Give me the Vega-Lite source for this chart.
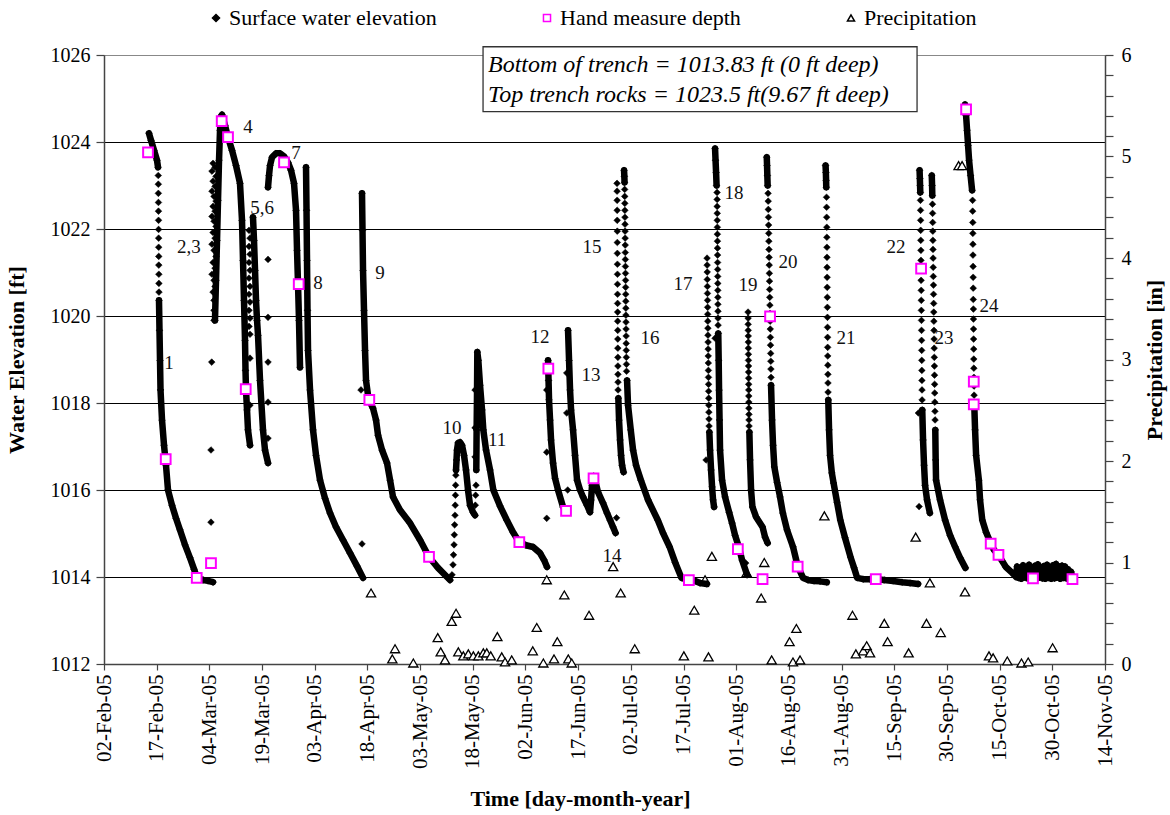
{
"$schema":"https://vega.github.io/schema/vega-lite/v6.json",
"width":1001,"height":609,
"autosize":{"type":"none"},
"padding":{"left":104,"top":55,"right":65,"bottom":151},
"background":"white",
"config":{
 "view":{"stroke":"#888888","strokeWidth":1},
 "axis":{"labelFont":"Liberation Serif","titleFont":"Liberation Serif","labelColor":"#000","titleColor":"#000","domainColor":"#444","domainWidth":1.5,"tickColor":"#444","tickWidth":1.2,"labelFontSize":20,"titleFontSize":22,"titleFontWeight":"bold","labelOverlap":false,"labelFlush":false},
 "legend":{"labelFont":"Liberation Serif","labelFontSize":22,"labelColor":"#000","labelLimit":0,"symbolSize":50,"symbolStrokeWidth":1.5,"symbolOpacity":1,"columnPadding":99,"labelOffset":2,"padding":0,"direction":"horizontal"}
},
"datasets":{
"precip":[
{"d":109.03,"p":0.70},{"d":115.86,"p":0.15},{"d":115.09,"p":0.05},{"d":121.07,"p":0.01},{"d":128.02,"p":0.26},{"d":128.87,"p":0.12},{"d":130.09,"p":0.04},{"d":132.0,"p":0.42},{"d":133.23,"p":0.50},{"d":133.88,"p":0.12},{"d":135.31,"p":0.08},{"d":136.73,"p":0.10},{"d":138.16,"p":0.08},{"d":139.58,"p":0.08},{"d":141.0,"p":0.11},{"d":141.97,"p":0.11},{"d":143.11,"p":0.08},{"d":144.99,"p":0.27},{"d":146.24,"p":0.07},{"d":147.18,"p":0.02},{"d":149.09,"p":0.04},{"d":155.07,"p":0.13},{"d":156.21,"p":0.36},{"d":158.09,"p":0.01},{"d":159.05,"p":0.83},{"d":161.13,"p":0.05},{"d":162.07,"p":0.22},{"d":164.06,"p":0.68},{"d":165.2,"p":0.05},{"d":166.17,"p":0.01},{"d":171.1,"p":0.48},
{"d":177.96,"p":0.96},{"d":180.1,"p":0.70},{"d":184.11,"p":0.15},{"d":198.1,"p":0.08},{"d":201.06,"p":0.53},{"d":204.13,"p":0.83},{"d":205.1,"p":0.07},{"d":206.07,"p":1.06},{"d":215.98,"p":0.90},{"d":220.11,"p":0.65},{"d":220.99,"p":1.00},{"d":223.1,"p":0.04},{"d":228.19,"p":0.22},{"d":229.16,"p":0.02},{"d":230.13,"p":0.35},{"d":231.18,"p":0.04},{"d":238.1,"p":1.46},{"d":246.1,"p":0.48},{"d":247.07,"p":0.10},{"d":249.18,"p":0.13},{"d":250.15,"p":0.18},{"d":251.11,"p":0.11},{"d":255.16,"p":0.40},{"d":256.1,"p":0.22},{"d":262.08,"p":0.11},{"d":264.1,"p":1.25},{"d":267.17,"p":0.40},{"d":268.14,"p":0.80},{"d":271.22,"p":0.31},{"d":276.31,"p":4.91},{"d":277.31,"p":4.91},{"d":278.14,"p":0.71},{"d":284.97,"p":0.08},{"d":286.14,"p":0.06},{"d":290.18,"p":0.03},{"d":294.22,"p":0.01},{"d":296.13,"p":0.02},{"d":303.08,"p":0.16}
],
"hand":[
{"d":45.53,"y":1023.76},{"d":50.57,"y":1016.71},{"d":59.4,"y":1013.98},{"d":63.46,"y":1014.32},{"d":66.51,"y":1024.48},{"d":68.31,"y":1024.11},{"d":73.35,"y":1018.32},{"d":84.25,"y":1023.53},{"d":88.44,"y":1020.73},{"d":108.54,"y":1018.07},{"d":125.54,"y":1014.46},{"d":151.25,"y":1014.8},{"d":159.51,"y":1018.79},{"d":164.55,"y":1015.52},{"d":172.38,"y":1016.27},{"d":199.52,"y":1013.93},{"d":213.47,"y":1014.64},{"d":220.5,"y":1013.95},{"d":222.64,"y":1019.99},{"d":230.5,"y":1014.24},{"d":252.74,"y":1013.95},{"d":265.64,"y":1021.09},{"d":278.45,"y":1024.75},{"d":280.64,"y":1018.49},{"d":280.64,"y":1017.97},{"d":285.45,"y":1014.77},{"d":287.67,"y":1014.51},{"d":297.5,"y":1013.97},{"d":308.74,"y":1013.95}
],
"labels":[
{"d":51.51,"y":1018.91,"t":"1"},{"d":57.2,"y":1021.58,"t":"2,3"},{"d":74,"y":1024.34,"t":"4"},{"d":77.99,"y":1022.48,"t":"5,6"},{"d":87.67,"y":1023.74,"t":"7"},{"d":93.93,"y":1020.75,"t":"8"},{"d":111.59,"y":1020.98,"t":"9"},{"d":132.09,"y":1017.42,"t":"10"},{"d":144.9,"y":1017.15,"t":"11"},{"d":157.15,"y":1019.51,"t":"12"},{"d":171.67,"y":1018.64,"t":"13"},{"d":177.65,"y":1014.48,"t":"14"},{"d":171.95,"y":1021.58,"t":"15"},{"d":188.47,"y":1019.49,"t":"16"},{"d":197.86,"y":1020.73,"t":"17"},{"d":212.39,"y":1022.82,"t":"18"},{"d":216.37,"y":1020.71,"t":"19"},{"d":227.76,"y":1021.23,"t":"20"},{"d":244.28,"y":1019.49,"t":"21"},{"d":258.52,"y":1021.58,"t":"22"},{"d":272.18,"y":1019.49,"t":"23"},{"d":285,"y":1020.22,"t":"24"}
],
"sweLine":[
{"d":45.81,"y":1024.2,"g":"1a"},{"d":46.38,"y":1024.04,"g":"1a"},{"d":47.24,"y":1023.81,"g":"1a"},{"d":48.09,"y":1023.58,"g":"1a"},{"d":48.38,"y":1023.42,"g":"1a"},
{"d":48.66,"y":1020.36,"g":"1b"},{"d":48.8,"y":1019.67,"g":"1b"},{"d":48.95,"y":1018.98,"g":"1b"},{"d":49.09,"y":1018.3,"g":"1b"},{"d":49.52,"y":1017.61,"g":"1b"},{"d":50.09,"y":1017.03,"g":"1b"},{"d":50.65,"y":1016.57,"g":"1b"},{"d":51.22,"y":1016.0,"g":"1b"},{"d":52.36,"y":1015.65,"g":"1b"},{"d":53.5,"y":1015.35,"g":"1b"},{"d":54.64,"y":1015.08,"g":"1b"},{"d":56.06,"y":1014.74,"g":"1b"},{"d":57.49,"y":1014.44,"g":"1b"},{"d":58.63,"y":1014.18,"g":"1b"},{"d":59.48,"y":1013.98,"g":"1b"},{"d":61.19,"y":1013.93,"g":"1b"},{"d":62.61,"y":1013.91,"g":"1b"},{"d":64.04,"y":1013.88,"g":"1b"},
{"d":64.6,"y":1019.9,"g":"4"},{"d":64.89,"y":1020.82,"g":"4"},{"d":65.18,"y":1021.74,"g":"4"},{"d":65.46,"y":1022.66,"g":"4"},{"d":65.75,"y":1023.58,"g":"4"},{"d":66.03,"y":1024.27,"g":"4"},{"d":66.31,"y":1024.59,"g":"4"},{"d":66.6,"y":1024.63,"g":"4"},{"d":67.45,"y":1024.38,"g":"4"},{"d":68.31,"y":1024.11,"g":"4"},{"d":69.45,"y":1023.81,"g":"4"},{"d":70.59,"y":1023.46,"g":"4"},{"d":71.72,"y":1023.05,"g":"4"},{"d":72.29,"y":1022.2,"g":"4"},{"d":72.58,"y":1021.28,"g":"4"},{"d":72.86,"y":1020.36,"g":"4"},{"d":73.15,"y":1019.44,"g":"4"},{"d":73.29,"y":1018.75,"g":"4"},{"d":73.43,"y":1018.3,"g":"4"},{"d":73.72,"y":1017.84,"g":"4"},{"d":74.0,"y":1017.38,"g":"4"},{"d":74.57,"y":1017.03,"g":"4"},
{"d":75.42,"y":1022.27,"g":"6"},{"d":75.71,"y":1021.74,"g":"6"},{"d":76.0,"y":1021.05,"g":"6"},{"d":76.28,"y":1020.36,"g":"6"},{"d":76.57,"y":1019.9,"g":"6"},{"d":76.85,"y":1019.56,"g":"6"},{"d":77.42,"y":1018.52,"g":"6"},{"d":78.27,"y":1017.38,"g":"6"},{"d":78.84,"y":1016.92,"g":"6"},{"d":79.7,"y":1016.62,"g":"6"},
{"d":79.7,"y":1022.96,"g":"7"},{"d":79.98,"y":1023.23,"g":"7"},{"d":80.27,"y":1023.46,"g":"7"},{"d":80.84,"y":1023.65,"g":"7"},{"d":81.98,"y":1023.74,"g":"7"},{"d":83.11,"y":1023.74,"g":"7"},{"d":84.25,"y":1023.67,"g":"7"},{"d":85.39,"y":1023.53,"g":"7"},{"d":86.25,"y":1023.35,"g":"7"},{"d":87.1,"y":1023.05,"g":"7"},{"d":87.67,"y":1022.43,"g":"7"},{"d":87.96,"y":1021.51,"g":"7"},{"d":88.24,"y":1020.73,"g":"7"},{"d":88.52,"y":1019.9,"g":"7"},{"d":88.81,"y":1018.82,"g":"7"},
{"d":90.52,"y":1023.42,"g":"8"},{"d":90.66,"y":1022.43,"g":"8"},{"d":90.8,"y":1021.28,"g":"8"},{"d":90.94,"y":1020.13,"g":"8"},{"d":91.09,"y":1019.21,"g":"8"},{"d":91.66,"y":1018.3,"g":"8"},{"d":92.51,"y":1017.38,"g":"8"},{"d":93.36,"y":1016.8,"g":"8"},{"d":94.5,"y":1016.23,"g":"8"},{"d":95.93,"y":1015.81,"g":"8"},{"d":97.35,"y":1015.47,"g":"8"},{"d":99.06,"y":1015.15,"g":"8"},{"d":101.05,"y":1014.85,"g":"8"},{"d":103.05,"y":1014.55,"g":"8"},{"d":105.04,"y":1014.25,"g":"8"},{"d":106.75,"y":1013.98,"g":"8"},
{"d":106.46,"y":1022.82,"g":"9"},{"d":106.6,"y":1021.97,"g":"9"},{"d":106.75,"y":1021.05,"g":"9"},{"d":107.03,"y":1020.13,"g":"9"},{"d":107.32,"y":1019.21,"g":"9"},{"d":107.6,"y":1018.52,"g":"9"},{"d":108.17,"y":1018.18,"g":"9"},{"d":108.74,"y":1018.02,"g":"9"},{"d":109.59,"y":1017.88,"g":"9"},{"d":110.45,"y":1017.61,"g":"9"},{"d":111.02,"y":1017.26,"g":"9"},{"d":112.16,"y":1016.92,"g":"9"},{"d":113.58,"y":1016.62,"g":"9"},{"d":114.44,"y":1016.23,"g":"9"},{"d":115.29,"y":1015.84,"g":"9"},{"d":117.28,"y":1015.54,"g":"9"},{"d":120.13,"y":1015.24,"g":"9"},{"d":122.98,"y":1014.85,"g":"9"},{"d":125.54,"y":1014.46,"g":"9"},{"d":128.1,"y":1014.21,"g":"9"},{"d":130.67,"y":1014.0,"g":"9"},{"d":131.52,"y":1013.93,"g":"9"},
{"d":133.23,"y":1016.46,"g":"10"},{"d":133.37,"y":1016.69,"g":"10"},{"d":133.51,"y":1016.92,"g":"10"},{"d":133.8,"y":1017.08,"g":"10"},{"d":134.37,"y":1017.1,"g":"10"},{"d":134.93,"y":1017.03,"g":"10"},{"d":135.5,"y":1016.8,"g":"10"},{"d":136.07,"y":1016.46,"g":"10"},{"d":136.64,"y":1016.0,"g":"10"},{"d":137.22,"y":1015.65,"g":"10"},{"d":138.07,"y":1015.49,"g":"10"},{"d":138.64,"y":1015.42,"g":"10"},
{"d":139.0,"y":1016.46,"g":"11"},{"d":139.09,"y":1017.38,"g":"11"},{"d":139.21,"y":1018.3,"g":"11"},{"d":139.29,"y":1019.17,"g":"11"},{"d":139.58,"y":1018.98,"g":"11"},{"d":140.06,"y":1018.41,"g":"11"},{"d":140.63,"y":1017.84,"g":"11"},{"d":141.0,"y":1017.38,"g":"11"},{"d":141.77,"y":1016.92,"g":"11"},{"d":142.91,"y":1016.46,"g":"11"},{"d":143.85,"y":1016.0,"g":"11"},{"d":145.76,"y":1015.63,"g":"11"},{"d":147.67,"y":1015.31,"g":"11"},{"d":149.46,"y":1015.03,"g":"11"},{"d":151.25,"y":1014.8,"g":"11"},{"d":153.16,"y":1014.73,"g":"11"},{"d":155.16,"y":1014.69,"g":"11"},{"d":157.15,"y":1014.55,"g":"11"},{"d":158.29,"y":1014.39,"g":"11"},{"d":159.14,"y":1014.23,"g":"11"},
{"d":159.43,"y":1018.98,"g":"12"},{"d":159.57,"y":1018.52,"g":"12"},{"d":159.71,"y":1018.07,"g":"12"},{"d":160.0,"y":1017.61,"g":"12"},{"d":160.28,"y":1017.15,"g":"12"},{"d":160.85,"y":1016.62,"g":"12"},{"d":161.42,"y":1016.27,"g":"12"},{"d":162.27,"y":1016.0,"g":"12"},{"d":163.7,"y":1015.61,"g":"12"},{"d":164.55,"y":1015.49,"g":"12"},
{"d":165.12,"y":1019.67,"g":"13"},{"d":165.41,"y":1018.98,"g":"13"},{"d":165.69,"y":1018.3,"g":"13"},{"d":165.98,"y":1017.84,"g":"13"},{"d":166.55,"y":1017.38,"g":"13"},{"d":167.11,"y":1016.8,"g":"13"},{"d":167.68,"y":1016.23,"g":"13"},{"d":168.54,"y":1016.0,"g":"13"},{"d":169.39,"y":1015.84,"g":"13"},{"d":170.53,"y":1015.65,"g":"13"},{"d":171.38,"y":1015.49,"g":"13"},{"d":171.67,"y":1015.77,"g":"13"},{"d":171.95,"y":1016.11,"g":"13"},{"d":172.38,"y":1016.32,"g":"13"},{"d":172.81,"y":1016.23,"g":"13"},{"d":173.66,"y":1015.95,"g":"13"},{"d":175.08,"y":1015.7,"g":"13"},{"d":176.22,"y":1015.47,"g":"13"},{"d":177.08,"y":1015.31,"g":"13"},{"d":177.93,"y":1015.15,"g":"13"},{"d":178.65,"y":1015.01,"g":"13"},
{"d":179.44,"y":1018.11,"g":"15"},{"d":179.64,"y":1017.61,"g":"15"},{"d":179.93,"y":1017.15,"g":"15"},{"d":180.21,"y":1016.8,"g":"15"},{"d":180.5,"y":1016.57,"g":"15"},{"d":180.92,"y":1016.41,"g":"15"},
{"d":181.07,"y":1023.35,"g":"16a"},{"d":181.15,"y":1023.21,"g":"16a"},{"d":181.21,"y":1023.07,"g":"16a"},
{"d":181.92,"y":1018.52,"g":"16b"},{"d":182.2,"y":1017.95,"g":"16b"},{"d":182.97,"y":1017.38,"g":"16b"},{"d":183.63,"y":1016.92,"g":"16b"},{"d":184.48,"y":1016.57,"g":"16b"},{"d":185.85,"y":1016.23,"g":"16b"},{"d":187.9,"y":1015.77,"g":"16b"},{"d":190.66,"y":1015.31,"g":"16b"},{"d":192.17,"y":1015.01,"g":"16b"},{"d":194.05,"y":1014.69,"g":"16b"},{"d":195.59,"y":1014.34,"g":"16b"},{"d":197.41,"y":1013.98,"g":"16b"},{"d":199.52,"y":1013.93,"g":"16b"},{"d":201.28,"y":1013.91,"g":"16b"},{"d":202.71,"y":1013.86,"g":"16b"},{"d":204.62,"y":1013.84,"g":"16b"},
{"d":205.36,"y":1017.33,"g":"17"},{"d":205.55,"y":1016.92,"g":"17"},{"d":205.84,"y":1016.46,"g":"17"},{"d":206.13,"y":1016.07,"g":"17"},{"d":206.41,"y":1015.77,"g":"17"},{"d":206.7,"y":1015.61,"g":"17"},
{"d":206.98,"y":1023.85,"g":"18a"},{"d":207.12,"y":1023.58,"g":"18a"},{"d":207.27,"y":1023.3,"g":"18a"},{"d":207.41,"y":1023.0,"g":"18a"},
{"d":207.89,"y":1019.6,"g":"18b"},{"d":208.01,"y":1018.98,"g":"18b"},{"d":208.12,"y":1018.3,"g":"18b"},{"d":208.26,"y":1017.61,"g":"18b"},{"d":208.4,"y":1016.92,"g":"18b"},{"d":208.97,"y":1016.23,"g":"18b"},{"d":209.83,"y":1015.84,"g":"18b"},{"d":210.97,"y":1015.49,"g":"18b"},{"d":211.82,"y":1015.24,"g":"18b"},{"d":212.67,"y":1014.96,"g":"18b"},{"d":213.75,"y":1014.69,"g":"18b"},{"d":214.67,"y":1014.39,"g":"18b"},{"d":216.09,"y":1014.05,"g":"18b"},
{"d":216.75,"y":1017.33,"g":"19"},{"d":216.94,"y":1016.69,"g":"19"},{"d":217.23,"y":1016.0,"g":"19"},{"d":217.63,"y":1015.61,"g":"19"},{"d":218.65,"y":1015.38,"g":"19"},{"d":220.5,"y":1015.15,"g":"19"},{"d":221.21,"y":1014.92,"g":"19"},{"d":221.95,"y":1014.78,"g":"19"},
{"d":221.7,"y":1023.65,"g":"20a"},{"d":221.78,"y":1023.46,"g":"20a"},{"d":221.86,"y":1023.23,"g":"20a"},{"d":221.95,"y":1023.0,"g":"20a"},
{"d":222.92,"y":1018.41,"g":"20b"},{"d":223.2,"y":1017.61,"g":"20b"},{"d":223.49,"y":1017.03,"g":"20b"},{"d":223.86,"y":1016.53,"g":"20b"},{"d":224.63,"y":1016.18,"g":"20b"},{"d":225.48,"y":1015.84,"g":"20b"},{"d":226.28,"y":1015.47,"g":"20b"},{"d":227.48,"y":1015.08,"g":"20b"},{"d":229.19,"y":1014.69,"g":"20b"},{"d":230.5,"y":1014.25,"g":"20b"},{"d":232.04,"y":1013.98,"g":"20b"},{"d":233.46,"y":1013.93,"g":"20b"},{"d":235.17,"y":1013.91,"g":"20b"},{"d":236.87,"y":1013.9,"g":"20b"},{"d":238.78,"y":1013.88,"g":"20b"},
{"d":238.44,"y":1023.46,"g":"21a"},{"d":238.53,"y":1023.3,"g":"21a"},{"d":238.59,"y":1023.12,"g":"21a"},{"d":238.64,"y":1022.96,"g":"21a"},
{"d":239.21,"y":1018.07,"g":"21b"},{"d":239.44,"y":1017.38,"g":"21b"},{"d":239.72,"y":1016.8,"g":"21b"},{"d":240.23,"y":1016.39,"g":"21b"},{"d":240.72,"y":1016.16,"g":"21b"},{"d":241.71,"y":1015.72,"g":"21b"},{"d":242.63,"y":1015.31,"g":"21b"},{"d":243.99,"y":1014.9,"g":"21b"},{"d":245.53,"y":1014.46,"g":"21b"},{"d":246.56,"y":1014.21,"g":"21b"},{"d":247.44,"y":1013.98,"g":"21b"},{"d":249.12,"y":1013.95,"g":"21b"},{"d":251.11,"y":1013.95,"g":"21b"},{"d":252.82,"y":1013.95,"g":"21b"},{"d":255.1,"y":1013.93,"g":"21b"},{"d":257.66,"y":1013.91,"g":"21b"},{"d":260.22,"y":1013.88,"g":"21b"},{"d":262.5,"y":1013.86,"g":"21b"},{"d":264.78,"y":1013.84,"g":"21b"},
{"d":265.21,"y":1023.35,"g":"22a"},{"d":265.29,"y":1023.16,"g":"22a"},{"d":265.35,"y":1023.0,"g":"22a"},{"d":265.41,"y":1022.84,"g":"22a"},
{"d":265.97,"y":1017.84,"g":"22b"},{"d":266.2,"y":1017.15,"g":"22b"},{"d":266.48,"y":1016.57,"g":"22b"},{"d":266.77,"y":1016.11,"g":"22b"},{"d":267.34,"y":1015.77,"g":"22b"},{"d":268.14,"y":1015.47,"g":"22b"},
{"d":268.68,"y":1023.23,"g":"23a"},{"d":268.77,"y":1023.0,"g":"23a"},{"d":268.83,"y":1022.77,"g":"23a"},
{"d":269.68,"y":1017.38,"g":"23b"},{"d":269.79,"y":1016.69,"g":"23b"},{"d":269.9,"y":1016.23,"g":"23b"},{"d":271.04,"y":1015.77,"g":"23b"},{"d":272.47,"y":1015.31,"g":"23b"},{"d":273.89,"y":1014.96,"g":"23b"},{"d":275.34,"y":1014.69,"g":"23b"},{"d":276.74,"y":1014.44,"g":"23b"},{"d":278.25,"y":1014.21,"g":"23b"},
{"d":278.16,"y":1024.86,"g":"24a"},{"d":278.45,"y":1024.61,"g":"24a"},{"d":278.73,"y":1024.27,"g":"24a"},{"d":279.02,"y":1023.92,"g":"24a"},{"d":279.3,"y":1023.58,"g":"24a"},{"d":279.73,"y":1023.23,"g":"24a"},{"d":280.16,"y":1022.89,"g":"24a"},
{"d":280.78,"y":1017.95,"g":"24b"},{"d":281.01,"y":1017.38,"g":"24b"},{"d":281.3,"y":1016.8,"g":"24b"},{"d":282.09,"y":1016.23,"g":"24b"},{"d":282.43,"y":1015.77,"g":"24b"},{"d":283.06,"y":1015.31,"g":"24b"},{"d":284.14,"y":1015.03,"g":"24b"},{"d":285.45,"y":1014.78,"g":"24b"},{"d":286.42,"y":1014.62,"g":"24b"},{"d":287.67,"y":1014.51,"g":"24b"},{"d":288.7,"y":1014.37,"g":"24b"},{"d":289.78,"y":1014.23,"g":"24b"},{"d":291.27,"y":1014.12,"g":"24b"},{"d":292.69,"y":1014.0,"g":"24b"},
{"d":292.97,"y":1014.24,"g":"24b"},{"d":293.4,"y":1013.98,"g":"24b"},{"d":293.83,"y":1014.21,"g":"24b"},{"d":294.25,"y":1013.96,"g":"24b"},{"d":294.68,"y":1014.27,"g":"24b"},{"d":295.11,"y":1013.99,"g":"24b"},{"d":295.53,"y":1014.23,"g":"24b"},{"d":295.96,"y":1013.97,"g":"24b"},{"d":296.39,"y":1014.28,"g":"24b"},{"d":296.81,"y":1013.96,"g":"24b"},{"d":297.24,"y":1014.22,"g":"24b"},{"d":297.67,"y":1013.98,"g":"24b"},{"d":298.09,"y":1014.26,"g":"24b"},{"d":298.52,"y":1013.96,"g":"24b"},{"d":298.95,"y":1014.29,"g":"24b"},{"d":299.37,"y":1013.99,"g":"24b"},{"d":299.8,"y":1014.22,"g":"24b"},{"d":300.23,"y":1013.97,"g":"24b"},{"d":300.65,"y":1014.25,"g":"24b"},{"d":301.08,"y":1013.96,"g":"24b"},{"d":301.51,"y":1014.28,"g":"24b"},{"d":301.93,"y":1013.98,"g":"24b"},{"d":302.36,"y":1014.23,"g":"24b"},{"d":302.79,"y":1013.96,"g":"24b"},{"d":303.21,"y":1014.27,"g":"24b"},{"d":303.64,"y":1013.97,"g":"24b"},{"d":304.07,"y":1014.3,"g":"24b"},{"d":304.49,"y":1013.99,"g":"24b"},{"d":304.92,"y":1014.24,"g":"24b"},{"d":305.35,"y":1013.96,"g":"24b"},{"d":305.77,"y":1014.26,"g":"24b"},{"d":306.2,"y":1013.98,"g":"24b"},{"d":306.63,"y":1014.24,"g":"24b"},{"d":307.05,"y":1013.97,"g":"24b"},{"d":307.48,"y":1014.18,"g":"24b"},{"d":307.91,"y":1013.98,"g":"24b"},{"d":308.33,"y":1014.12,"g":"24b"},{"d":308.76,"y":1013.99,"g":"24b"}
],
"sweDots":[
{"d":48.45,"y":1023.23},{"d":48.47,"y":1023.03},{"d":48.48,"y":1022.82},{"d":48.5,"y":1022.61},{"d":48.51,"y":1022.41},{"d":48.53,"y":1022.2},{"d":48.54,"y":1021.99},{"d":48.56,"y":1021.79},{"d":48.57,"y":1021.58},{"d":48.59,"y":1021.37},{"d":48.6,"y":1021.17},{"d":48.62,"y":1020.96},{"d":48.63,"y":1020.75},{"d":48.65,"y":1020.55},
{"d":64.04,"y":1023.51},{"d":64.61,"y":1023.42},{"d":63.75,"y":1023.33},{"d":64.89,"y":1023.21},{"d":64.04,"y":1023.1},{"d":64.61,"y":1022.98},{"d":63.75,"y":1022.87},{"d":64.32,"y":1022.75},{"d":64.89,"y":1022.64},{"d":64.04,"y":1022.52},{"d":64.61,"y":1022.41},{"d":63.75,"y":1022.29},{"d":64.32,"y":1022.18},{"d":64.89,"y":1022.06},{"d":64.04,"y":1021.92},{"d":64.61,"y":1021.79},{"d":63.75,"y":1021.65},{"d":64.32,"y":1021.51},{"d":64.89,"y":1021.37},{"d":64.04,"y":1021.23},{"d":64.61,"y":1021.1},{"d":63.75,"y":1020.96},{"d":64.32,"y":1020.82},{"d":64.61,"y":1020.68},{"d":64.04,"y":1020.55},{"d":64.32,"y":1020.36},{"d":64.32,"y":1020.13},{"d":64.32,"y":1019.9},
{"d":63.67,"y":1018.94},{"d":63.46,"y":1016.92},{"d":63.46,"y":1015.26},
{"d":74.29,"y":1021.97},{"d":74.57,"y":1021.79},{"d":74.29,"y":1021.6},{"d":74.57,"y":1021.42},{"d":74.29,"y":1021.23},{"d":74.57,"y":1021.05},{"d":74.29,"y":1020.87},{"d":74.57,"y":1020.68},{"d":74.29,"y":1020.5},{"d":74.57,"y":1020.32},{"d":74.29,"y":1020.13},{"d":74.57,"y":1019.95},{"d":74.29,"y":1019.76},{"d":74.57,"y":1019.58},
{"d":79.7,"y":1021.3},{"d":79.7,"y":1019.97},{"d":79.7,"y":1018.94},{"d":79.7,"y":1018.02},{"d":79.7,"y":1017.19},{"d":74.57,"y":1019.03},{"d":74.57,"y":1017.95},
{"d":106.46,"y":1014.76},{"d":106.17,"y":1018.3},
{"d":132.09,"y":1014.05},{"d":132.37,"y":1014.28},{"d":132.51,"y":1014.51},{"d":132.66,"y":1014.74},{"d":132.74,"y":1014.97},{"d":132.83,"y":1015.2},{"d":132.94,"y":1015.42},{"d":133.0,"y":1015.65},{"d":133.06,"y":1015.88},{"d":133.11,"y":1016.11},{"d":133.17,"y":1016.34},
{"d":138.72,"y":1015.65},{"d":138.81,"y":1015.88},{"d":138.92,"y":1016.11},{"d":138.64,"y":1016.76},{"d":138.64,"y":1017.43},{"d":138.64,"y":1018.3},
{"d":159.05,"y":1015.35},{"d":159.05,"y":1016.87},{"d":159.05,"y":1018.3},
{"d":165.03,"y":1016.0},{"d":164.75,"y":1017.77},{"d":164.75,"y":1018.69},{"d":178.93,"y":1015.36},
{"d":179.07,"y":1023.05},{"d":179.08,"y":1022.87},{"d":179.1,"y":1022.66},{"d":179.11,"y":1022.43},{"d":179.12,"y":1022.2},{"d":179.14,"y":1021.95},{"d":179.15,"y":1021.69},{"d":179.16,"y":1021.44},{"d":179.18,"y":1021.19},{"d":179.19,"y":1020.96},{"d":179.2,"y":1020.73},{"d":179.21,"y":1020.5},{"d":179.23,"y":1020.29},{"d":179.24,"y":1020.09},{"d":179.25,"y":1019.88},{"d":179.27,"y":1019.67},{"d":179.28,"y":1019.47},{"d":179.29,"y":1019.26},{"d":179.31,"y":1019.05},{"d":179.32,"y":1018.85},{"d":179.33,"y":1018.66},{"d":179.35,"y":1018.48},{"d":179.36,"y":1018.3},
{"d":181.24,"y":1022.91},{"d":181.26,"y":1022.75},{"d":181.28,"y":1022.59},{"d":181.3,"y":1022.43},{"d":181.32,"y":1022.27},{"d":181.34,"y":1022.11},{"d":181.36,"y":1021.95},{"d":181.38,"y":1021.79},{"d":181.4,"y":1021.63},{"d":181.42,"y":1021.46},{"d":181.44,"y":1021.3},{"d":181.46,"y":1021.14},{"d":181.48,"y":1020.98},{"d":181.5,"y":1020.82},{"d":181.52,"y":1020.66},{"d":181.54,"y":1020.5},{"d":181.56,"y":1020.34},{"d":181.58,"y":1020.18},{"d":181.6,"y":1020.02},{"d":181.62,"y":1019.86},{"d":181.64,"y":1019.7},{"d":181.66,"y":1019.54},{"d":181.68,"y":1019.37},{"d":181.7,"y":1019.21},{"d":181.72,"y":1019.05},{"d":181.75,"y":1018.89},{"d":181.78,"y":1018.73},
{"d":204.7,"y":1021.33},{"d":204.72,"y":1021.17},{"d":204.75,"y":1021.01},{"d":204.77,"y":1020.84},{"d":204.8,"y":1020.68},{"d":204.82,"y":1020.52},{"d":204.84,"y":1020.36},{"d":204.87,"y":1020.2},{"d":204.89,"y":1020.04},{"d":204.91,"y":1019.88},{"d":204.94,"y":1019.72},{"d":204.96,"y":1019.56},{"d":204.99,"y":1019.4},{"d":205.01,"y":1019.24},{"d":205.03,"y":1019.08},{"d":205.06,"y":1018.92},{"d":205.08,"y":1018.75},{"d":205.1,"y":1018.59},{"d":205.13,"y":1018.43},{"d":205.15,"y":1018.27},{"d":205.18,"y":1018.11},{"d":205.2,"y":1017.95},{"d":205.22,"y":1017.79},{"d":205.25,"y":1017.63},{"d":205.27,"y":1017.47},{"d":204.42,"y":1016.69},
{"d":207.55,"y":1022.84},{"d":207.57,"y":1022.68},{"d":207.58,"y":1022.52},{"d":207.6,"y":1022.36},{"d":207.61,"y":1022.2},{"d":207.63,"y":1022.04},{"d":207.64,"y":1021.88},{"d":207.66,"y":1021.72},{"d":207.67,"y":1021.56},{"d":207.69,"y":1021.4},{"d":207.7,"y":1021.23},{"d":207.72,"y":1021.07},{"d":207.73,"y":1020.91},{"d":207.75,"y":1020.75},{"d":207.76,"y":1020.59},{"d":207.78,"y":1020.43},{"d":207.79,"y":1020.27},{"d":207.81,"y":1020.11},{"d":207.82,"y":1019.95},{"d":207.84,"y":1019.79},{"d":206.98,"y":1019.49},{"d":215.69,"y":1014.32},
{"d":216.37,"y":1020.09},{"d":216.39,"y":1019.95},{"d":216.4,"y":1019.81},{"d":216.42,"y":1019.67},{"d":216.43,"y":1019.54},{"d":216.45,"y":1019.4},{"d":216.46,"y":1019.26},{"d":216.48,"y":1019.12},{"d":216.49,"y":1018.98},{"d":216.51,"y":1018.85},{"d":216.52,"y":1018.71},{"d":216.54,"y":1018.57},{"d":216.55,"y":1018.43},{"d":216.57,"y":1018.3},{"d":216.58,"y":1018.16},{"d":216.6,"y":1018.02},{"d":216.61,"y":1017.88},{"d":216.63,"y":1017.74},{"d":216.64,"y":1017.61},{"d":216.66,"y":1017.47},
{"d":222.07,"y":1022.82},{"d":222.11,"y":1022.64},{"d":222.14,"y":1022.45},{"d":222.18,"y":1022.27},{"d":222.22,"y":1022.09},{"d":222.26,"y":1021.9},{"d":222.29,"y":1021.72},{"d":222.33,"y":1021.53},{"d":222.37,"y":1021.35},{"d":222.4,"y":1021.17},{"d":222.44,"y":1020.98},{"d":222.48,"y":1020.8},{"d":222.51,"y":1020.61},{"d":222.55,"y":1020.43},{"d":222.59,"y":1020.25},{"d":222.63,"y":1020.06},{"d":222.66,"y":1019.88},{"d":222.7,"y":1019.7},{"d":222.74,"y":1019.51},{"d":222.77,"y":1019.33},{"d":222.81,"y":1019.14},{"d":222.85,"y":1018.96},{"d":222.88,"y":1018.78},{"d":222.92,"y":1018.59},
{"d":238.72,"y":1022.73},{"d":238.74,"y":1022.5},{"d":238.76,"y":1022.27},{"d":238.79,"y":1022.04},{"d":238.81,"y":1021.81},{"d":238.83,"y":1021.58},{"d":238.85,"y":1021.35},{"d":238.87,"y":1021.12},{"d":238.89,"y":1020.89},{"d":238.91,"y":1020.66},{"d":238.94,"y":1020.43},{"d":238.96,"y":1020.2},{"d":238.98,"y":1019.97},{"d":239.0,"y":1019.74},{"d":239.02,"y":1019.51},{"d":239.04,"y":1019.28},{"d":239.06,"y":1019.08},{"d":239.09,"y":1018.87},{"d":239.11,"y":1018.66},{"d":239.13,"y":1018.46},{"d":239.15,"y":1018.25},
{"d":265.46,"y":1022.66},{"d":265.48,"y":1022.43},{"d":265.51,"y":1022.2},{"d":265.53,"y":1021.97},{"d":265.55,"y":1021.74},{"d":265.58,"y":1021.51},{"d":265.6,"y":1021.28},{"d":265.62,"y":1021.05},{"d":265.64,"y":1020.82},{"d":265.67,"y":1020.59},{"d":265.69,"y":1020.36},{"d":265.71,"y":1020.13},{"d":265.74,"y":1019.9},{"d":265.76,"y":1019.67},{"d":265.78,"y":1019.44},{"d":265.81,"y":1019.21},{"d":265.83,"y":1018.98},{"d":265.85,"y":1018.75},{"d":265.87,"y":1018.52},{"d":265.9,"y":1018.3},{"d":265.92,"y":1018.07},{"d":265.07,"y":1015.62},{"d":264.87,"y":1017.77},
{"d":268.88,"y":1022.57},{"d":268.91,"y":1022.36},{"d":268.94,"y":1022.15},{"d":268.97,"y":1021.95},{"d":269.0,"y":1021.74},{"d":269.03,"y":1021.53},{"d":269.06,"y":1021.33},{"d":269.09,"y":1021.12},{"d":269.12,"y":1020.91},{"d":269.16,"y":1020.71},{"d":269.19,"y":1020.5},{"d":269.22,"y":1020.29},{"d":269.25,"y":1020.09},{"d":269.28,"y":1019.88},{"d":269.31,"y":1019.67},{"d":269.34,"y":1019.47},{"d":269.37,"y":1019.26},{"d":269.4,"y":1019.05},{"d":269.43,"y":1018.85},{"d":269.46,"y":1018.64},{"d":269.49,"y":1018.43},{"d":269.52,"y":1018.23},{"d":269.55,"y":1018.02},{"d":269.59,"y":1017.81},{"d":269.62,"y":1017.61},
{"d":280.3,"y":1022.66},{"d":280.32,"y":1022.41},{"d":280.35,"y":1022.15},{"d":280.37,"y":1021.9},{"d":280.39,"y":1021.65},{"d":280.41,"y":1021.4},{"d":280.44,"y":1021.14},{"d":280.46,"y":1020.89},{"d":280.48,"y":1020.64},{"d":280.5,"y":1020.38},{"d":280.53,"y":1020.16},{"d":280.55,"y":1019.93},{"d":280.57,"y":1019.7},{"d":280.59,"y":1019.47},{"d":280.62,"y":1019.24},{"d":280.64,"y":1019.01},{"d":280.66,"y":1018.8},{"d":280.68,"y":1018.59},{"d":280.71,"y":1018.39},{"d":280.73,"y":1018.18}
]
},
"layer":[
 {"data":{"name":"precip"},
  "mark":{"type":"point","size":85,"strokeWidth":1.3,"opacity":1},
  "encoding":{
   "x":{"field":"d","type":"quantitative","scale":{"domain":[33,318],"nice":false,"zero":false},
        "axis":{"values":[33,48,63,78,93,108,123,138,153,168,183,198,213,228,243,258,273,288,303,318],"tickCount":40,"labelExpr":"timeFormat(datetime(2005, 0, datum.value), '%d-%b-%y')","labelAngle":-90,"labelFontSize":21,"tickSize":6,"labelPadding":4,"grid":false,"title":"Time [day-month-year]","titlePadding":20,"titleX":476,"titleAnchor":"start","titleAlign":"center"}},
   "y":{"field":"p","type":"quantitative","scale":{"domain":[0,6],"nice":false},
        "axis":{"orient":"right","values":[0,0.2,0.4,0.6,0.8,1,1.2,1.4,1.6,1.8,2,2.2,2.4,2.6,2.8,3,3.2,3.4,3.6,3.8,4,4.2,4.4,4.6,4.8,5,5.2,5.4,5.6,5.8,6],"tickCount":100,"tickMinStep":0.2,"labelExpr":"abs(datum.value - round(datum.value)) < 0.001 ? format(datum.value, 'd') : ''","tickSize":8,"labelPadding":8,"grid":false,"title":"Precipitation [in]","titleAngle":-90,"titleBaseline":"top","titlePadding":13}},
   "shape":{"datum":"Precipitation","type":"nominal","scale":{"domain":["Surface water elevation","Hand measure depth","Precipitation"],"range":["diamond","square","triangle-up"]},"legend":{"title":null,"orient":"none","legendX":101,"legendY":-48,"direction":"horizontal"}},
   "fill":{"datum":"Precipitation","type":"nominal","scale":{"domain":["Surface water elevation","Hand measure depth","Precipitation"],"range":["#000000","#ffffff","#ffffff"]},"legend":{"title":null,"orient":"none","legendX":101,"legendY":-48,"direction":"horizontal"}},
   "stroke":{"datum":"Precipitation","type":"nominal","scale":{"domain":["Surface water elevation","Hand measure depth","Precipitation"],"range":["#000000","#ff00ff","#000000"]},"legend":{"title":null,"orient":"none","legendX":101,"legendY":-48,"direction":"horizontal"}}
  }},
 {"layer":[
  {"data":{"name":"sweLine"},
   "mark":{"type":"line","color":"#000","strokeWidth":6.5,"strokeCap":"round","strokeJoin":"round"},
   "encoding":{
    "x":{"field":"d","type":"quantitative"},
    "y":{"field":"y","type":"quantitative","scale":{"domain":[1012,1026],"nice":false,"zero":false},
         "axis":{"orient":"left","values":[1012,1014,1016,1018,1020,1022,1024,1026],"tickCount":20,"format":"d","tickSize":8,"labelPadding":6,"grid":true,"gridColor":{"condition":{"test":"datum.value == 1026","value":"#888888"},"value":"#000000"},"gridWidth":1,"title":"Water Elevation [ft]","titlePadding":22}},
    "detail":{"field":"g","type":"nominal"}}},
  {"data":{"name":"sweLine"},
   "mark":{"type":"point","size":45,"opacity":1,"strokeWidth":0.5},
   "encoding":{
    "x":{"field":"d","type":"quantitative"},
    "y":{"field":"y","type":"quantitative"},
    "shape":{"datum":"Surface water elevation","type":"nominal"},
    "fill":{"datum":"Surface water elevation","type":"nominal"},
    "stroke":{"datum":"Surface water elevation","type":"nominal"}}},
  {"data":{"name":"sweDots"},
   "mark":{"type":"point","size":45,"opacity":1,"strokeWidth":0.5},
   "encoding":{
    "x":{"field":"d","type":"quantitative"},
    "y":{"field":"y","type":"quantitative"},
    "shape":{"datum":"Surface water elevation","type":"nominal"},
    "fill":{"datum":"Surface water elevation","type":"nominal"},
    "stroke":{"datum":"Surface water elevation","type":"nominal"}}},
  {"data":{"name":"hand"},
   "mark":{"type":"point","size":95,"opacity":1,"strokeWidth":2},
   "encoding":{
    "x":{"field":"d","type":"quantitative"},
    "y":{"field":"y","type":"quantitative"},
    "shape":{"datum":"Hand measure depth","type":"nominal"},
    "fill":{"datum":"Hand measure depth","type":"nominal"},
    "stroke":{"datum":"Hand measure depth","type":"nominal"}}},
  {"data":{"name":"labels"},
   "mark":{"type":"text","font":"Liberation Serif","fontSize":19,"color":"#111","align":"center","baseline":"middle"},
   "encoding":{
    "x":{"field":"d","type":"quantitative"},
    "y":{"field":"y","type":"quantitative"},
    "text":{"field":"t","type":"nominal"}}},
  {"data":{"values":[{}]},
   "mark":{"type":"rect","fill":"#ffffff","stroke":"#333333","strokeWidth":1.3},
   "encoding":{
    "x":{"datum":140.92,"type":"quantitative"},"x2":{"datum":264.49},
    "y":{"datum":1026.19,"type":"quantitative"},"y2":{"datum":1024.7}}},
  {"data":{"values":[{}]},
   "mark":{"type":"text","font":"Liberation Serif","fontSize":24,"fontStyle":"italic","align":"left","baseline":"alphabetic","color":"#000"},
   "encoding":{
    "x":{"datum":142.34,"type":"quantitative"},
    "y":{"datum":1025.62,"type":"quantitative"},
    "text":{"value":"Bottom of trench = 1013.83 ft (0 ft deep)"}}},
  {"data":{"values":[{}]},
   "mark":{"type":"text","font":"Liberation Serif","fontSize":24,"fontStyle":"italic","align":"left","baseline":"alphabetic","color":"#000"},
   "encoding":{
    "x":{"datum":142.34,"type":"quantitative"},
    "y":{"datum":1024.93,"type":"quantitative"},
    "text":{"value":"Top trench rocks = 1023.5 ft(9.67 ft deep)"}}}
 ]}
],
"resolve":{"scale":{"y":"independent"}}
}
